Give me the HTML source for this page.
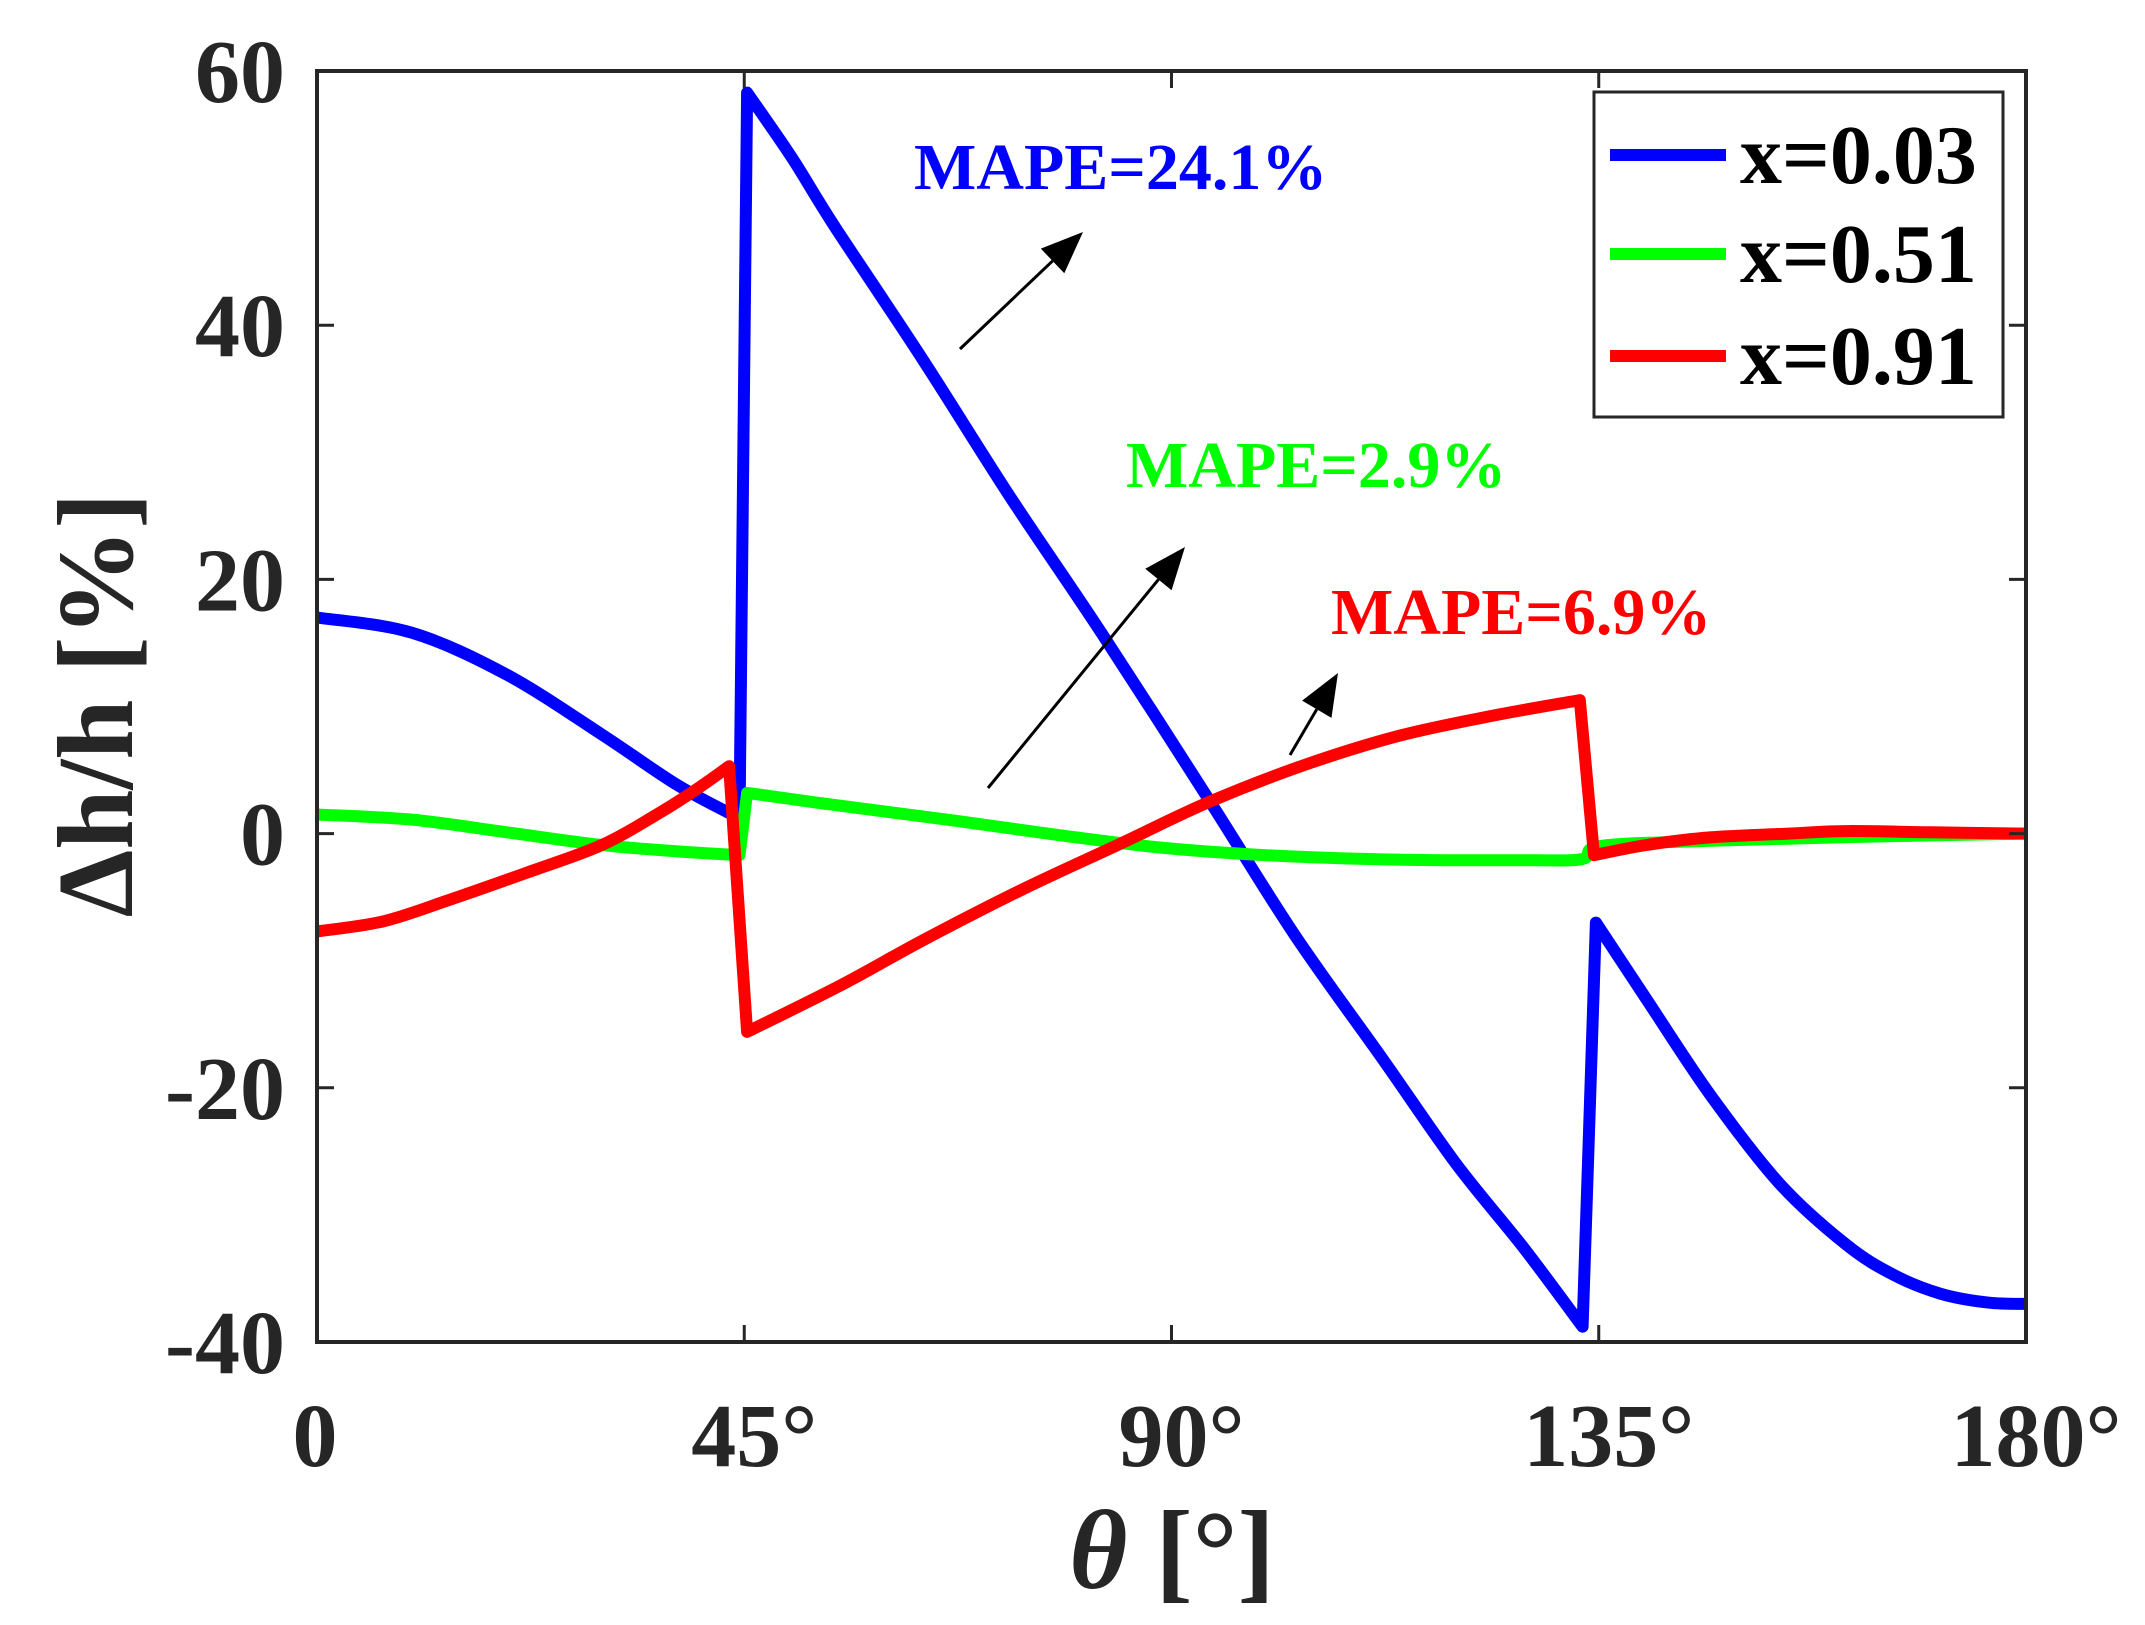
<!DOCTYPE html>
<html><head><meta charset="utf-8"><style>
html,body{margin:0;padding:0;background:#fff;}
svg{display:block;}
text{font-family:"Liberation Serif",serif;font-weight:bold;}
</style></head><body>
<svg id="chart" width="2145" height="1625" viewBox="0 0 2145 1625" xmlns="http://www.w3.org/2000/svg">
<rect x="0" y="0" width="2145" height="1625" fill="#fff"/>
<g id="plot"></g>
</svg>
<script>
const xTicks=[0,45,90,135,180];
const xTickLabels=["0","45°","90°","135°","180°"];
const yTicks=[-40,-20,0,20,40,60];
const yTickLabels=["-40","-20","0","20","40","60"];
const blueX=[0,10,20,30,38,44.5,45.3,50,54.5,63.8,73,82.7,94,103,112.3,120,127,133.3,134.7,140,146.7,154,161,166,171,176,180];
const blueY=[17,15.8,12.5,7.8,3.8,1.2,58.3,53.2,47.8,37.3,26.5,15.7,2.6,-8,-17.8,-26,-32.5,-38.8,-7,-13,-20.5,-27.5,-32.3,-34.7,-36.2,-36.9,-37];
const greenX=[0,10,20,30,38,44.5,45.3,55,67.4,78,88.9,100,110.7,120,128,133.3,135,145,160,180];
const greenY=[1.5,1.1,0.1,-0.9,-1.4,-1.7,3.2,2.2,1,-0.1,-1.1,-1.7,-2,-2.1,-2.1,-2,-1,-0.6,-0.3,0];
const redX=[0,7,14,22,30,36,40,43.4,45.3,55,63.8,74,84.6,94,104,114,124,133,134.5,140,146.7,155,161,170,180];
const redY=[-7.7,-6.9,-5.2,-3.1,-0.9,1.6,3.5,5.3,-15.6,-12,-8.4,-4.5,-0.8,2.5,5.4,7.7,9.3,10.5,-1.7,-0.9,-0.3,0,0.2,0.1,0];
const seriesNames=["x=0.03","x=0.51","x=0.91"];
const mapeLabels=["MAPE=24.1%","MAPE=2.9%","MAPE=6.9%"];

const L=317,R=2026,T=71,B=1342;
const xs=v=>L+(v-0)/(180-0)*(R-L);
const ys=v=>B-(v-(-40))/(60-(-40))*(B-T);
const NS="http://www.w3.org/2000/svg";
const g=document.getElementById('plot');
function mk(tag,attrs){const e=document.createElementNS(NS,tag);for(const k in attrs)e.setAttribute(k,attrs[k]);g.appendChild(e);return e;}

function drawLine(X,Y,color,name){
  const P=X.map((x,i)=>[xs(x),ys(Y[i])]);
  const n=P.length;
  const steep=i=>Math.abs(Y[i+1]-Y[i])/Math.max(1e-6,X[i+1]-X[i])>3;
  let d='M'+P[0][0].toFixed(1)+','+P[0][1].toFixed(1);
  for(let i=0;i<n-1;i++){
    if(steep(i)){d+=' L'+P[i+1][0].toFixed(1)+','+P[i+1][1].toFixed(1);continue;}
    const p0=(i>0&&!steep(i-1))?P[i-1]:P[i];
    const p3=(i+2<n&&!steep(i+1))?P[i+2]:P[i+1];
    const p1=P[i],p2=P[i+1];
    const c1=[p1[0]+(p2[0]-p0[0])/6,p1[1]+(p2[1]-p0[1])/6];
    const c2=[p2[0]-(p3[0]-p1[0])/6,p2[1]-(p3[1]-p1[1])/6];
    d+=` C${c1[0].toFixed(1)},${c1[1].toFixed(1)} ${c2[0].toFixed(1)},${c2[1].toFixed(1)} ${p2[0].toFixed(1)},${p2[1].toFixed(1)}`;
  }
  const p=mk('path',{d:d,fill:'none',stroke:color,'stroke-width':12,'stroke-linejoin':'round','stroke-linecap':'butt'});
  
  
}
drawLine(blueX,blueY,'#0000ff','series-x-0-03');
drawLine(greenX,greenY,'#00ff00','series-x-0-51');
drawLine(redX,redY,'#ff0000','series-x-0-91');

const box=mk('rect',{x:L,y:T,width:R-L,height:B-T,fill:'none',stroke:'#262626','stroke-width':4});



xTicks.forEach((v,i)=>{
  const x=xs(v);
  const t1=mk('line',{x1:x,y1:B,x2:x,y2:B-17,stroke:'#262626','stroke-width':3});
  
  
  const t2=mk('line',{x1:x,y1:T,x2:x,y2:T+17,stroke:'#262626','stroke-width':3});
  
  
  const tx=mk('text',{x:x+(v===0?-2:10),y:1466,'font-size':90,'text-anchor':'middle',fill:'#262626'});
  tx.textContent=xTickLabels[i];
  
  
});
yTicks.forEach((v,i)=>{
  const y=ys(v);
  const t1=mk('line',{x1:L,y1:y,x2:L+17,y2:y,stroke:'#262626','stroke-width':3});
  
  
  const t2=mk('line',{x1:R,y1:y,x2:R-17,y2:y,stroke:'#262626','stroke-width':3});
  
  
  const tx=mk('text',{x:285,y:y+31,'font-size':90,'text-anchor':'end',fill:'#262626'});
  tx.textContent=yTickLabels[i];
  
  
});

const xt=mk('text',{x:1172,y:1588,'font-size':112,'text-anchor':'middle',fill:'#262626'});
xt.innerHTML='<tspan font-style="italic">θ</tspan> [°]';


const yt=mk('text',{x:0,y:0,'font-size':108,'text-anchor':'middle',fill:'#262626',transform:'translate(132,705) rotate(-90)'});
yt.textContent='Δh/h [%]';



const annColors=['#0000ff','#00ff00','#ff0000'];
const annPos=[[914,189],[1126,487],[1331,634]];
mapeLabels.forEach((s,i)=>{
  const t=mk('text',{x:annPos[i][0],y:annPos[i][1],'font-size':66,fill:annColors[i]});
  t.textContent=s;
  
  
});
const arrows=[[960,349,1083,232],[988,788,1185,547],[1290,755,1338,673]];
arrows.forEach(a=>{
  const [x1,y1,x2,y2]=a;
  const ang=Math.atan2(y2-y1,x2-x1);
  const hl=42,hw=17;
  const bx=x2-hl*Math.cos(ang),by=y2-hl*Math.sin(ang);
  const l=mk('line',{x1:x1,y1:y1,x2:bx,y2:by,stroke:'#000','stroke-width':3});
  
  
  const px=-Math.sin(ang),py=Math.cos(ang);
  const h=mk('polygon',{points:`${x2},${y2} ${bx+hw*px},${by+hw*py} ${bx-hw*px},${by-hw*py}`,fill:'#000'});
  
  
});

const lg=mk('rect',{x:1594,y:92,width:409,height:325,fill:'#fff',stroke:'#262626','stroke-width':3});


const legY=[155,254,356];
seriesNames.forEach((s,i)=>{
  const ln=mk('line',{x1:1610,y1:legY[i],x2:1726,y2:legY[i],stroke:annColors[i],'stroke-width':12});
  
  
  const t=mk('text',{x:1740,y:legY[i]+28,'font-size':84,fill:'#000'});
  t.textContent=s;
  
  
});
</script>
</body></html>
